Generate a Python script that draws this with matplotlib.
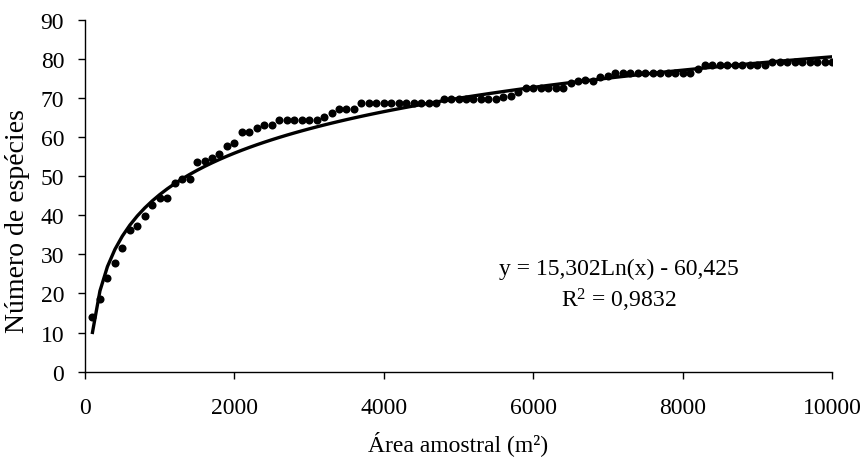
import matplotlib
matplotlib.use('Agg')
import matplotlib.pyplot as plt
import numpy as np

# sample area (m2), one point every 100 m2
area = np.arange(100, 10001, 100)

# cumulative number of species
species = (
    [13.9, 18.6, 24.0, 27.7, 31.6, 36.3, 37.3, 39.7, 42.7, 44.4,
     44.5, 48.3, 49.3, 49.3, 53.7, 53.9, 54.7, 55.7, 57.6, 58.5,
     61.4, 61.4, 62.3, 63.2, 63.2]
    + [64.3] * 6
    + [65.2, 66.2, 67.2, 67.2, 67.2]
    + [68.6] * 11
    + [69.7] * 8
    + [70.3, 70.6, 71.4]
    + [72.5] * 6
    + [73.7, 74.4, 74.6, 74.2, 75.3, 75.7]
    + [76.5] * 11
    + [77.4]
    + [78.4] * 9
    + [79.2] * 9
)

# logarithmic trendline coefficients shown on the chart
slope = 15.302
intercept = -60.425
r2_text = "0,9832"

plt.rcParams['font.family'] = ['Liberation Serif', 'DejaVu Serif']
plt.rcParams['mathtext.fontset'] = 'custom'
plt.rcParams['mathtext.rm'] = 'Liberation Serif'
plt.rcParams['mathtext.it'] = 'Liberation Serif:italic'

fig = plt.figure(figsize=(8.63, 4.60), dpi=100)
ax = fig.add_axes([85 / 863, 1 - 372.7 / 460, (832 - 85) / 863, (372.7 - 20.7) / 460])

ax.plot(area, species, 'o', color='black', markersize=5.8, markeredgewidth=0, zorder=3)
trend = slope * np.log(area) + intercept
ax.plot(area, trend, '-', color='black', linewidth=2.4, zorder=2)

ax.set_xlim(0, 10000)
ax.set_ylim(0, 90)
ax.set_xticks(np.arange(0, 10001, 2000))
ax.set_yticks(np.arange(0, 91, 10))

for side in ['top', 'right']:
    ax.spines[side].set_visible(False)
for side in ['left', 'bottom']:
    ax.spines[side].set_linewidth(1.0)

ax.tick_params(axis='both', direction='out', length=5, width=1.0, labelsize=17)
ax.tick_params(axis='x', pad=13)
ax.tick_params(axis='y', pad=10)

ax.set_xlabel("Área amostral (m²)", fontsize=17, labelpad=9)
ax.set_ylabel("Número de espécies", fontsize=20)
ax.yaxis.set_label_coords(-0.073, 0.43)

ax.text(7150, 26.3, "y = 15,302Ln(x) - 60,425", fontsize=17, ha='center', va='center')
ax.text(7150, 18.6, r"R$^\mathrm{2}$ = " + r2_text, fontsize=17, ha='center', va='center')

fig.savefig('out.png', dpi=100)
